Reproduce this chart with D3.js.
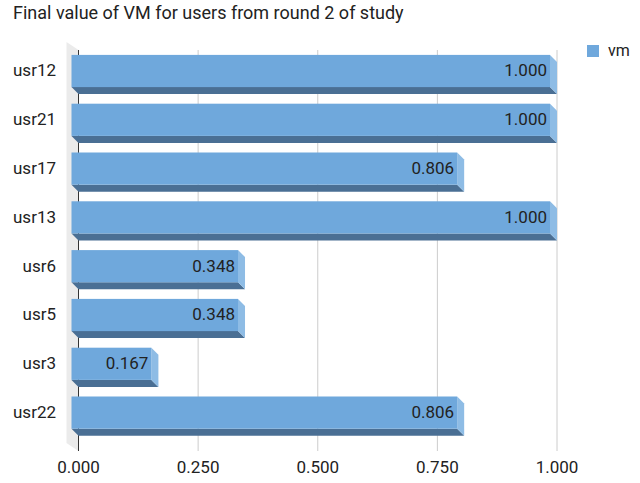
<!DOCTYPE html>
<html>
<head>
<meta charset="utf-8">
<script src="https://cdn.jsdelivr.net/npm/d3@7"></script>
<style>
  html, body { margin: 0; padding: 0; background: #fff; }
  svg text { font-family: Roboto, "Noto Sans", sans-serif; fill: #222; }
</style>
</head>
<body>
<svg id="chart" width="640" height="483"></svg>
<script>
// Chart data
const categories = ["usr12", "usr21", "usr17", "usr13", "usr6", "usr5", "usr3", "usr22"];
const vmValues = [1.000, 1.000, 0.806, 1.000, 0.348, 0.348, 0.167, 0.806];
const xTicks = [0, 0.25, 0.5, 0.75, 1.0];
const seriesName = "vm";
const title = "Final value of VM for users from round 2 of study";

const svg = d3.select("#chart");

// 3D depth: the back plane (grid) sits offset from the bars' front face
const depth = { dx: 7, dy: 7 };
const wallDepth = { dx: 12, dy: 8 };

// Scales on the front plane
const x = d3.scaleLinear().domain([0, 1]).range([71.5, 550]);
const y = d3.scaleBand().domain(categories).range([46.6, 437])
  .paddingInner(0.34).paddingOuter(0.17);

const backTop = 50, backBottom = 451;
const bx = v => x(v) + depth.dx;

const colors = { front: "#6fa8dc", bottom: "#4a6f94", side: "#8ebce5", wall: "#ebebeb", grid: "#cccccc" };

// Left wall
const wx = bx(0);
svg.append("polygon")
  .attr("points", [
    [wx, backTop], [wx - wallDepth.dx, backTop - wallDepth.dy],
    [wx - wallDepth.dx, backBottom - wallDepth.dy], [wx, backBottom]
  ].map(p => p.join(",")).join(" "))
  .attr("fill", colors.wall);

// Grid lines on the back plane
svg.append("g").selectAll("line").data(xTicks.slice(1)).join("line")
  .attr("x1", d => bx(d)).attr("x2", d => bx(d))
  .attr("y1", backTop).attr("y2", backBottom)
  .attr("stroke", colors.grid).attr("stroke-width", 1);

// Baseline
svg.append("line")
  .attr("x1", wx).attr("x2", wx).attr("y1", backTop).attr("y2", backBottom)
  .attr("stroke", "#333").attr("stroke-width", 1);

// Bars: bottom face, side face, front face
const bars = svg.append("g").selectAll("g").data(categories).join("g");
bars.each(function (c, i) {
  const g = d3.select(this);
  const v = vmValues[i];
  const x0 = x(0), x1 = x(v);
  const y0 = y(c), y1 = y(c) + y.bandwidth();
  const { dx, dy } = depth;
  g.append("polygon")
    .attr("points", [[x0, y1], [x1, y1], [x1 + dx, y1 + dy], [x0 + dx, y1 + dy]].map(p => p.join(",")).join(" "))
    .attr("fill", colors.bottom);
  g.append("polygon")
    .attr("points", [[x1, y0], [x1 + dx, y0 + dy], [x1 + dx, y1 + dy], [x1, y1]].map(p => p.join(",")).join(" "))
    .attr("fill", colors.side);
  g.append("rect")
    .attr("x", x0).attr("y", y0).attr("width", x1 - x0).attr("height", y1 - y0)
    .attr("fill", colors.front);
  g.append("text")
    .attr("x", x1 - 3).attr("y", (y0 + y1) / 2 + 1)
    .attr("text-anchor", "end").attr("dominant-baseline", "middle")
    .attr("font-size", 17)
    .text(d3.format(".3f")(v));
});

// Category labels
svg.append("g").selectAll("text").data(categories).join("text")
  .attr("x", 56).attr("y", d => y(d) + y.bandwidth() / 2 + 1)
  .attr("text-anchor", "end").attr("dominant-baseline", "middle")
  .attr("font-size", 17)
  .text(d => d);

// X tick labels
svg.append("g").selectAll("text").data(xTicks).join("text")
  .attr("x", d => bx(d)).attr("y", 469)
  .attr("text-anchor", "middle").attr("dominant-baseline", "middle")
  .attr("font-size", 17)
  .text(d => d3.format(".3f")(d));

// Title
svg.append("text")
  .attr("x", 13).attr("y", 14)
  .attr("dominant-baseline", "middle")
  .attr("font-size", 18)
  .text(title);

// Legend
svg.append("rect")
  .attr("x", 587).attr("y", 45).attr("width", 12).attr("height", 12)
  .attr("fill", colors.front);
svg.append("text")
  .attr("x", 608).attr("y", 51.5)
  .attr("dominant-baseline", "middle")
  .attr("font-size", 16)
  .text(seriesName);
</script>
</body>
</html>
